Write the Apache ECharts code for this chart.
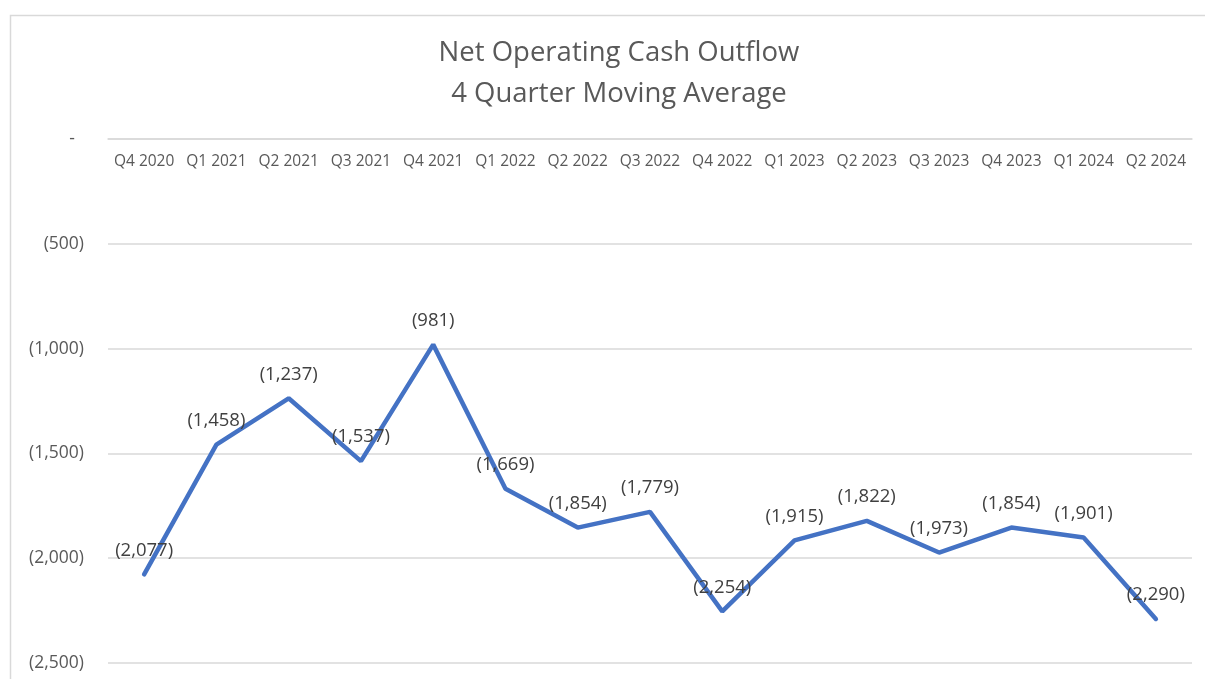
<!DOCTYPE html>
<html>
<head>
<meta charset="utf-8">
<title>Net Operating Cash Outflow</title>
<script src="https://cdn.jsdelivr.net/npm/echarts@6/dist/echarts.min.js"></script>
<style>
  html, body { margin: 0; padding: 0; background: #fff; }
  #chart { width: 1205px; height: 679px; }
</style>
</head>
<body>
<div id="chart"></div>
<script>
// quarters and 4 quarter moving average (negative = outflow)
var quarters = ['Q4 2020', 'Q1 2021', 'Q2 2021', 'Q3 2021', 'Q4 2021', 'Q1 2022', 'Q2 2022',
    'Q3 2022', 'Q4 2022', 'Q1 2023', 'Q2 2023', 'Q3 2023', 'Q4 2023', 'Q1 2024', 'Q2 2024'];
var movingAvg = [-2077, -1458, -1237, -1537, -981, -1669, -1854,
    -1779, -2254, -1915, -1822, -1973, -1854, -1901, -2290];

var fontName = '"Open Sans", "Noto Sans", sans-serif';

// accounting style: (1,234), zero as "-"
function acct(v) {
    if (v === 0) return '-';
    var s = Math.abs(v).toLocaleString('en-US');
    return v < 0 ? '(' + s + ')' : s;
}

var option = {
    backgroundColor: '#ffffff',
    animation: false,
    title: {
        text: 'Net Operating Cash Outflow\n4 Quarter Moving Average',
        left: 614,
        textAlign: 'center',
        top: 28,
        textStyle: {
            fontFamily: fontName,
            fontSize: 27.5,
            fontWeight: 'normal',
            color: '#595959',
            lineHeight: 41
        }
    },
    graphic: [{
        type: 'rect',
        shape: { x: 10.5, y: 15.5, width: 1300, height: 800 },
        style: { fill: 'none', stroke: '#d9d9d9', lineWidth: 1.5 },
        silent: true
    }],
    grid: {
        left: 108,
        right: 13,
        top: 139,
        bottom: 16,
        outerBoundsMode: 'none'
    },
    xAxis: {
        type: 'category',
        position: 'top',
        data: quarters,
        boundaryGap: true,
        axisLine: { lineStyle: { color: '#d9d9d9', width: 1.5 } },
        axisTick: { show: false },
        axisLabel: {
            inside: true,
            interval: 0,
            margin: 15,
            fontFamily: fontName,
            fontSize: 15.5,
            color: '#595959'
        },
        splitLine: { show: false }
    },
    yAxis: {
        type: 'value',
        min: -2500,
        max: 0,
        interval: 500,
        axisLine: { show: false },
        axisTick: { show: false },
        axisLabel: {
            margin: 24,
            fontFamily: fontName,
            fontSize: 17.5,
            color: '#595959',
            formatter: function (v) {
                return v === 0 ? '-  ' : acct(v);
            }
        },
        splitLine: { lineStyle: { color: '#d9d9d9', width: 1.5 } }
    },
    series: [{
        name: '4 Quarter Moving Average',
        type: 'line',
        data: movingAvg,
        symbol: 'circle',
        symbolSize: 1,
        itemStyle: { color: '#4472C4' },
        lineStyle: { color: '#4472C4', width: 4.5, cap: 'round' },
        label: {
            show: true,
            position: 'top',
            distance: 14,
            fontFamily: fontName,
            fontSize: 18.5,
            color: '#404040',
            formatter: function (p) { return acct(p.value); }
        }
    }]
};

var myChart = echarts.init(document.getElementById('chart'));
myChart.setOption(option);
</script>
</body>
</html>
